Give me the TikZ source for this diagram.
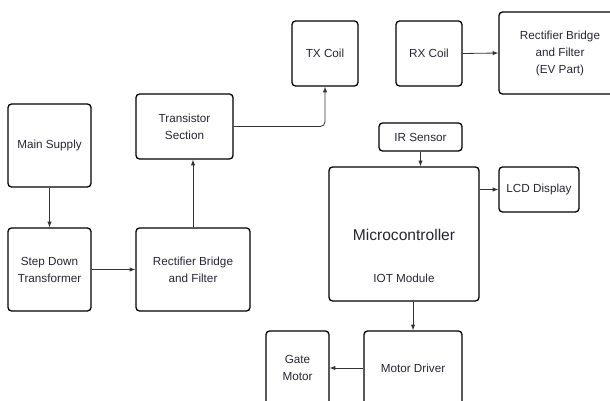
\documentclass[tikz,border=0pt]{standalone}
\usepackage{fontspec}
\setmainfont{Liberation Sans}
\usepackage{tikz}
\usetikzlibrary{arrows}
\definecolor{txt}{rgb}{0.15, 0.15, 0.2}
\tikzstyle{box}=[draw,line width=1.1pt,rounded corners=3pt,align=center,text=txt,font=\fontsize{10}{14.5}\selectfont,inner sep=2pt]
\tikzstyle{arr}=[-latex,line width=0.7pt,color=black!80]
\newcommand{\pxl}{0.03cm}
\newcommand{\blockbox}[6]{
  \node[box, minimum width=#4*\pxl, minimum height=#5*\pxl] (#1) at (#2, #3) {#6};
}

\begin{document}
\begin{tikzpicture}[x=0.03cm,y=-0.03cm]
\useasboundingbox (0,0) rectangle (610,401);
\clip (0,0) rectangle (610,401);
% power side
\blockbox{main}{49.5}{145.5}{83}{83}{Main Supply}
\blockbox{step}{49.5}{269.5}{83}{83}{Step Down\\Transformer}
\blockbox{rect}{193}{269.5}{114}{83}{Rectifier Bridge\\and Filter}
\blockbox{trans}{184.5}{126.5}{97}{65}{Transistor\\Section}
\blockbox{tx}{325}{53.5}{66}{65}{TX Coil}
% vehicle side
\blockbox{rx}{429}{53.5}{66}{65}{RX Coil}
\blockbox{ev}{560}{53}{122}{82}{Rectifier Bridge\\and Filter\\(EV Part)}
\blockbox{ir}{420.5}{137}{83}{28}{IR Sensor}
\blockbox{micro}{404}{234}{150}{134}{}
\node[text=txt,font=\fontsize{13.3}{16}\selectfont] (mctitle) at (404,235) {Microcontroller};
\node[text=txt,font=\fontsize{10}{12}\selectfont] (iot) at (404,278) {IOT Module};
\blockbox{lcd}{539}{189.5}{80}{45}{LCD Display}
\blockbox{drv}{413}{368}{98}{74}{Motor Driver}
\blockbox{gate}{297.5}{368}{63}{74}{Gate\\Motor}
% connections
\draw[arr] (main.south) -- (step.north);
\draw[arr] (step.east) -- (rect.west);
\draw[arr] (rect.north) -- (rect.north |- trans.south);
\draw[arr, rounded corners=4pt] (trans.east) -| (tx.south);
\draw[arr] (rx.east) -- (ev.west);
\draw[arr] (ir.south) -- (ir.south |- micro.north);
\draw[arr] (lcd.west -| micro.east) -- (lcd.west);
\draw[arr] (drv.north |- micro.south) -- (drv.north);
\draw[arr] (drv.west) -- (gate.east);
\end{tikzpicture}
\end{document}
